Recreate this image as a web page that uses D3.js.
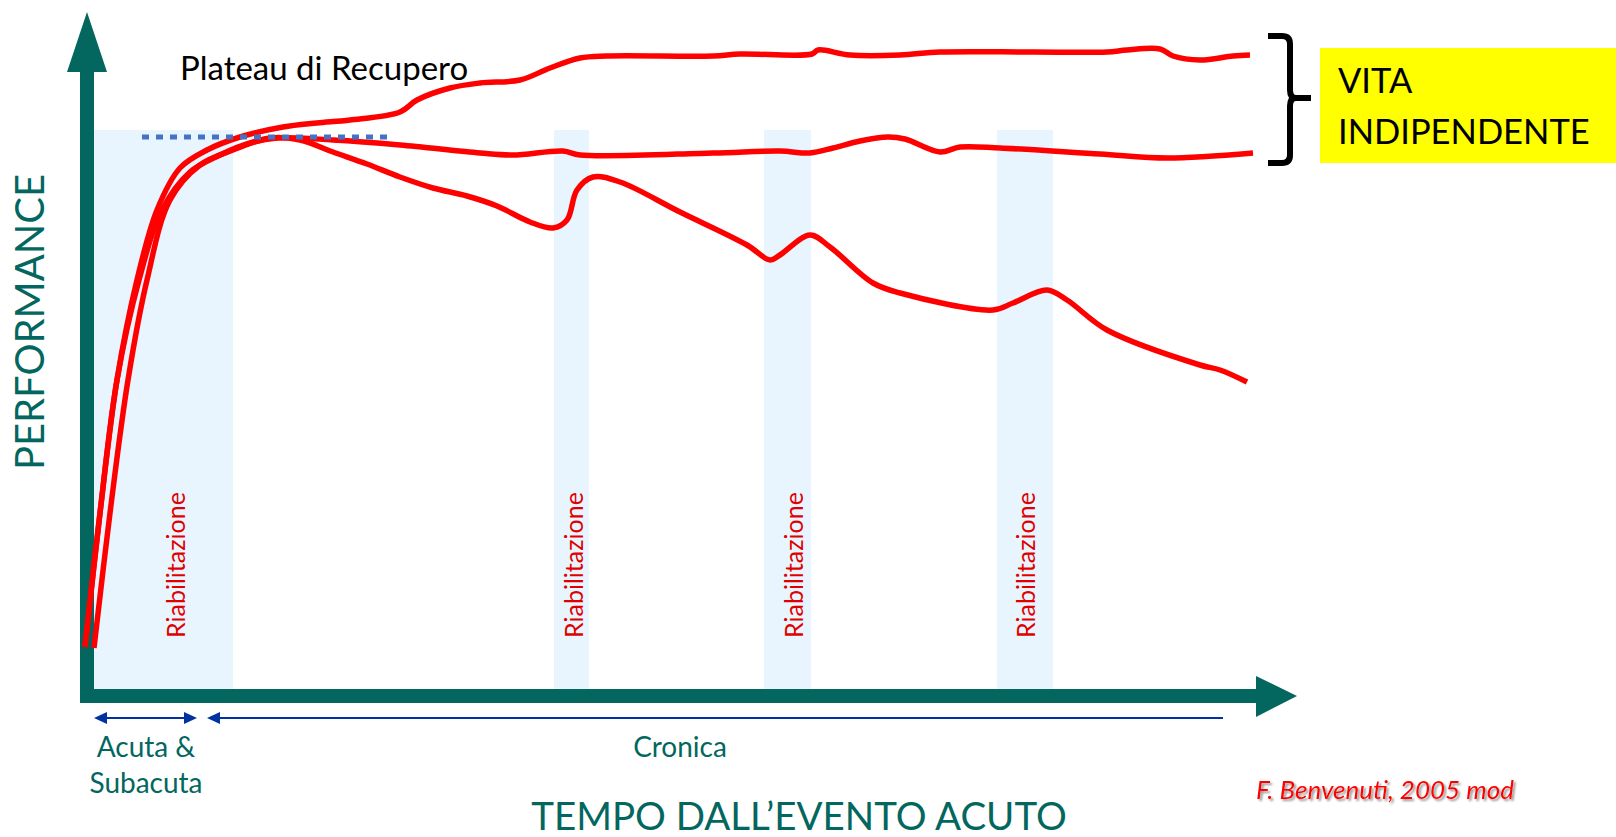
<!DOCTYPE html>
<html>
<head>
<meta charset="utf-8">
<script src="https://cdn.jsdelivr.net/npm/d3@7/dist/d3.min.js"></script>
<style>
  body { margin: 0; background: #fff; }
  text { font-family: Lato, "Open Sans", sans-serif; }
</style>
</head>
<body>
<div id="chart"></div>
<script>
// time since the acute event (arbitrary units) and performance (arbitrary units)
var timeTop = [-0.2, 1.3, 3.0, 5.0, 7.0, 9.3, 12.0, 15.3, 19.6, 23.0, 26.3, 31.3, 33.0, 36.3, 39.3, 43.3, 46.3, 49.3, 52.0, 62.6, 65.3, 72.5, 73.1, 76.3, 81.3, 85.3, 94.6, 102.0, 104.0, 107.3, 108.6, 111.3, 114.6, 116.3];
var perfTop = [8.4, 35.2, 61.8, 81.8, 95.8, 104.2, 107.8, 110.4, 112.4, 113.2, 113.8, 115.4, 117.8, 120.2, 121.2, 121.8, 124.2, 126.2, 126.6, 126.6, 127.0, 127.0, 127.8, 126.8, 126.8, 127.4, 127.4, 127.4, 127.8, 128.0, 126.6, 125.8, 126.6, 126.8];

var timeFlat = [-0.2, 1.3, 3.0, 5.2, 7.5, 10.3, 13.3, 16.3, 19.0, 24.6, 31.3, 39.3, 42.6, 47.6, 49.3, 62.6, 69.3, 72.3, 74.6, 77.3, 80.1, 81.8, 85.3, 87.3, 91.3, 101.3, 108.0, 116.6];
var perfFlat = [8.4, 35.2, 61.8, 81.8, 95.8, 103.4, 106.8, 109.2, 110.2, 109.8, 108.8, 107.2, 106.8, 107.6, 106.8, 107.2, 107.6, 107.2, 108.2, 109.6, 110.4, 110.0, 107.4, 108.4, 108.2, 107.0, 106.2, 107.2];

var timeDecline = [0.7, 2.3, 4.1, 6.0, 8.3, 11.3, 14.6, 18.3, 21.3, 24.6, 28.0, 31.3, 34.6, 38.0, 41.0, 44.3, 46.6, 48.0, 49.0, 50.6, 53.3, 59.3, 66.0, 68.3, 69.3, 72.3, 74.3, 78.6, 81.3, 90.6, 92.6, 96.0, 98.0, 102.0, 111.3, 113.3, 116.0];
var perfDecline = [8.2, 35.2, 61.8, 81.8, 97.8, 104.8, 107.8, 110.2, 109.8, 107.4, 105.0, 102.4, 100.2, 98.6, 96.6, 93.4, 92.2, 93.8, 99.8, 102.4, 101.4, 95.4, 88.8, 85.8, 86.8, 90.8, 88.4, 81.2, 79.2, 75.8, 77.2, 79.8, 77.8, 71.8, 64.8, 63.8, 61.4];

// rehabilitation periods
var bandStart = [0.7, 46.7, 67.7, 91.0];
var bandEnd = [14.6, 50.2, 72.4, 96.6];
var bandLabelTime = [8.9, 48.7, 70.7, 93.9];
var bandLabel = "Riabilitazione";
var bandTop = 111.8;

// phases under the time axis
var phaseStart = [0.7, 12.0];
var phaseEnd = [11.0, 113.6];
var phaseBothEnds = [true, false];
var phaseLabels = [["Acuta &", "Subacuta"], ["Cronica"]];
var phaseLabelTime = [5.9, 59.3];

var plateauLevel = 110.4;
var plateauFrom = 5.5;
var plateauTo = 30.0;

var teal = "#03675F";
var red = "#FF0000";

function drawChart() {
  var width = 1616, height = 837;

  var svg = d3.select("#chart").append("svg")
    .attr("width", width)
    .attr("height", height);

  var x = d3.scaleLinear().domain([0, 117]).range([87, 1257]);
  var y = d3.scaleLinear().domain([0, 130]).range([689, 39]);

  var defs = svg.append("defs");
  var shadow = defs.append("filter").attr("id", "shadow")
    .attr("x", "-10%").attr("y", "-30%").attr("width", "130%").attr("height", "180%");
  shadow.append("feDropShadow")
    .attr("dx", 2).attr("dy", 2).attr("stdDeviation", 1.2)
    .attr("flood-color", "#777").attr("flood-opacity", 0.8);

  // rehab bands
  svg.selectAll("rect.band")
    .data(bandStart)
    .enter().append("rect")
    .attr("class", "band")
    .attr("x", function(d) { return x(d); })
    .attr("y", y(bandTop))
    .attr("width", function(d, i) { return x(bandEnd[i]) - x(d); })
    .attr("height", y(0) - y(bandTop))
    .attr("fill", "#E8F5FE");

  svg.selectAll("text.band")
    .data(bandLabelTime)
    .enter().append("text")
    .attr("class", "band")
    .attr("transform", function(d) { return "translate(" + x(d) + "," + y(10.2) + ") rotate(-90)"; })
    .attr("dy", "0.35em")
    .attr("font-size", 25)
    .attr("fill", "#E00000")
    .text(bandLabel);

  // axes as arrows
  svg.append("rect")
    .attr("x", x(0) - 7).attr("y", y(123.4))
    .attr("width", 14).attr("height", y(-2.8) - y(123.4))
    .attr("fill", teal);
  svg.append("path")
    .attr("d", "M" + (x(0) - 20) + "," + y(123.4) + "L" + x(0) + "," + y(135.4) + "L" + (x(0) + 20) + "," + y(123.4) + "Z")
    .attr("fill", teal);

  svg.append("rect")
    .attr("x", x(-0.7)).attr("y", y(0))
    .attr("width", x(116.9) - x(-0.7)).attr("height", 14)
    .attr("fill", teal);
  svg.append("path")
    .attr("d", "M" + x(116.9) + "," + (y(-1.4) - 20) + "L" + x(121) + "," + y(-1.4) + "L" + x(116.9) + "," + (y(-1.4) + 21) + "Z")
    .attr("fill", teal);

  // curves
  var line = d3.line()
    .x(function(d) { return x(d[0]); })
    .y(function(d) { return y(d[1]); })
    .curve(d3.curveCatmullRom.alpha(0.5));

  var series = [[timeTop, perfTop], [timeFlat, perfFlat], [timeDecline, perfDecline]];
  svg.selectAll("path.curve")
    .data(series)
    .enter().append("path")
    .attr("class", "curve")
    .attr("d", function(s) { return line(d3.zip(s[0], s[1])); })
    .attr("fill", "none")
    .attr("stroke", red)
    .attr("stroke-width", 5.5);

  // plateau dotted line
  svg.append("line")
    .attr("x1", x(plateauFrom)).attr("x2", x(plateauTo))
    .attr("y1", y(plateauLevel)).attr("y2", y(plateauLevel))
    .attr("stroke", "#4472C4")
    .attr("stroke-width", 5)
    .attr("stroke-dasharray", "7 7");

  svg.append("text")
    .attr("x", x(9.3)).attr("y", y(121.8))
    .attr("font-size", 33)
    .attr("fill", "#000")
    .text("Plateau di Recupero");

  // brace + yellow box
  var bx0 = x(118.1), bx1 = x(120.3), bx2 = x(122.4);
  var bt = y(130.6), bm = y(118.2), bb = y(105.2);
  svg.append("path")
    .attr("d", "M" + bx0 + "," + bt + "L" + (bx1 - 8) + "," + bt + "Q" + bx1 + "," + bt + " " + bx1 + "," + (bt + 8) +
      "L" + bx1 + "," + (bm - 8) + "Q" + bx1 + "," + bm + " " + (bx1 + 6) + "," + bm + "L" + bx2 + "," + bm +
      "M" + (bx1 + 6) + "," + bm + "Q" + bx1 + "," + bm + " " + bx1 + "," + (bm + 8) +
      "L" + bx1 + "," + (bb - 8) + "Q" + bx1 + "," + bb + " " + (bx1 - 8) + "," + bb + "L" + bx0 + "," + bb)
    .attr("fill", "none")
    .attr("stroke", "#000")
    .attr("stroke-width", 6);

  svg.append("rect")
    .attr("x", 1320).attr("y", 48)
    .attr("width", 300).attr("height", 115)
    .attr("fill", "#FFFF00");
  svg.append("text")
    .attr("x", 1338).attr("y", 93)
    .attr("font-size", 34.5)
    .text("VITA");
  svg.append("text")
    .attr("x", 1338).attr("y", 144)
    .attr("font-size", 34.5)
    .text("INDIPENDENTE");

  // phase arrows
  var ay = y(-5.8);
  var phases = svg.selectAll("g.phase")
    .data(phaseStart)
    .enter().append("g")
    .attr("class", "phase");
  phases.append("line")
    .attr("x1", function(d) { return x(d) + 8; })
    .attr("x2", function(d, i) { return x(phaseEnd[i]) - (phaseBothEnds[i] ? 8 : 0); })
    .attr("y1", ay).attr("y2", ay)
    .attr("stroke", "#0033A0")
    .attr("stroke-width", 2);
  phases.append("path")
    .attr("d", function(d) { return "M" + x(d) + "," + ay + "L" + (x(d) + 13) + "," + (ay - 6) + "L" + (x(d) + 13) + "," + (ay + 6) + "Z"; })
    .attr("fill", "#0033A0");
  phases.filter(function(d, i) { return phaseBothEnds[i]; })
    .append("path")
    .attr("d", function(d, i) { var e = x(phaseEnd[0]); return "M" + e + "," + ay + "L" + (e - 13) + "," + (ay - 6) + "L" + (e - 13) + "," + (ay + 6) + "Z"; })
    .attr("fill", "#0033A0");

  phaseLabels.forEach(function(lines, i) {
    lines.forEach(function(t, j) {
      svg.append("text")
        .attr("x", x(phaseLabelTime[i]))
        .attr("y", 757 + j * 36)
        .attr("text-anchor", "middle")
        .attr("font-size", 28)
        .attr("fill", teal)
        .text(t);
    });
  });

  // axis titles
  svg.append("text")
    .attr("x", 799).attr("y", 830)
    .attr("text-anchor", "middle")
    .attr("font-size", 38.5)
    .attr("fill", teal)
    .text("TEMPO DALL\u2019EVENTO ACUTO");

  svg.append("text")
    .attr("transform", "translate(30,322) rotate(-90)")
    .attr("dy", "0.35em")
    .attr("text-anchor", "middle")
    .attr("font-size", 40)
    .attr("fill", teal)
    .text("PERFORMANCE");

  svg.append("text")
    .attr("x", 1256).attr("y", 799)
    .attr("font-size", 26)
    .attr("font-style", "italic")
    .attr("fill", red)
    .attr("filter", "url(#shadow)")
    .text("F. Benvenuti, 2005 mod");
}

drawChart();
</script>
</body>
</html>
